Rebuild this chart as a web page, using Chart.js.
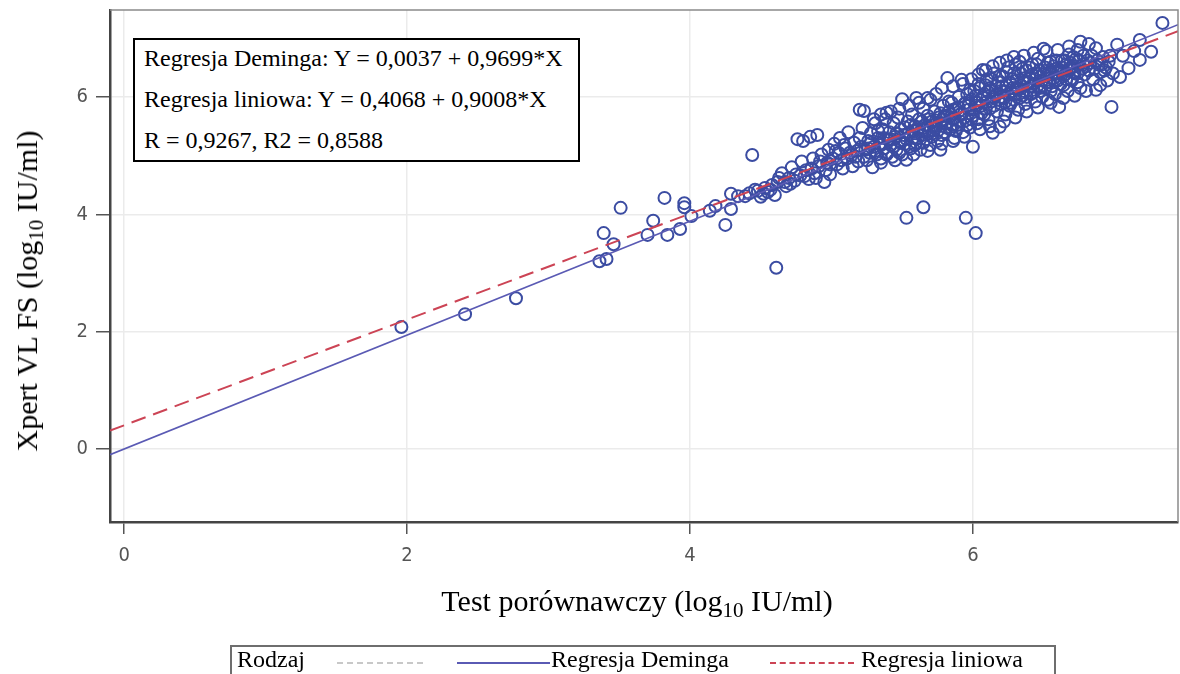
<!DOCTYPE html>
<html lang="pl">
<head>
<meta charset="utf-8">
<script src="https://cdn.jsdelivr.net/npm/chart.js@4"></script>
<style>
  html, body { margin:0; padding:0; background:#fff; }
  #wrap { position:relative; width:1180px; height:674px; overflow:hidden; font-family:"Liberation Serif", "Times New Roman", serif; }
  #chart { position:absolute; left:0; top:0; }
  .ttl { position:absolute; color:#000; font-size:30px; white-space:nowrap; }
  .ttl sub { font-size:21px; vertical-align:-6px; line-height:0; }
  #ytitle { left:27px; top:291px; transform:translate(-50%,-50%) rotate(-90deg); }
  #xtitle { left:637px; top:601px; transform:translate(-50%,-50%); }
  #stats { position:absolute; left:133px; top:38px; width:447px; height:124px; border:2px solid #000; background:#fff;
           font-size:24px; line-height:41px; padding:0 0 0 9px; box-sizing:border-box; }
  #stats div { height:41px; }
  #stats div:first-child { margin-top:-2px; }
  #legend { position:absolute; left:230px; top:645px; width:826px; height:40px; border:2px solid #6e6e6e; box-sizing:border-box;
            font-size:24px; }
  #legend span { position:absolute; top:-1px; white-space:nowrap; }
  #legend i { position:absolute; top:15px; height:0; }
</style>
</head>
<body>
<div id="wrap">
  <canvas id="chart" width="1180" height="674"></canvas>
  <div class="ttl" id="ytitle">Xpert VL FS (log<sub>10</sub> IU/ml)</div>
  <div class="ttl" id="xtitle">Test porównawczy (log<sub>10</sub> IU/ml)</div>
  <div id="stats">
    <div>Regresja Deminga: Y = 0,0037 + 0,9699*X</div>
    <div>Regresja liniowa: Y = 0,4068 + 0,9008*X</div>
    <div>R = 0,9267, R2 = 0,8588</div>
  </div>
  <div id="legend">
    <span style="left:5px">Rodzaj</span>
    <i style="left:105px;width:86px;border-top:2px dashed #c8c8c8"></i>
    <i style="left:225px;width:93px;border-top:2px solid #5a5ab4"></i>
    <span style="left:319px">Regresja Deminga</span>
    <i style="left:538px;width:84px;border-top:2px dashed #cc4455"></i>
    <span style="left:629px">Regresja liniowa</span>
  </div>
</div>
<script>
// axis setup
const X_MIN = -0.1, X_MAX = 7.45;
const Y_MIN = -1.24, Y_MAX = 7.48;
const xTicks = [0, 2, 4, 6];
const yTicks = [0, 2, 4, 6];

// regression lines (from the box)
const demingLine = { a: 0.0037, b: 0.9699 };
const linearLine = { a: 0.4068, b: 0.9008 };

// low-end samples
const tailPoints = [
  [1.96,2.08],[2.41,2.30],[2.77,2.57],[3.36,3.20],[3.41,3.24],[3.39,3.68],[3.46,3.49],[3.51,4.11],
  [3.70,3.65],[3.74,3.89],[3.84,3.65],[3.82,4.28],[3.93,3.75],[3.96,4.19],[3.96,4.12],[4.01,3.97],
  [4.14,4.06],[4.18,4.14],[4.25,3.82],[4.29,4.09],[4.29,4.35],[4.34,4.31],[4.39,4.31],[4.44,5.01]
];

// points well below the band
const outlierPoints = [
  [4.61,3.09],[5.53,3.94],[5.65,4.12],[5.95,3.94],[6.02,3.68]
];

// main band 4.4 .. 7.4
const clusterPoints = [
  [4.42,4.36],[4.46,4.42],[4.50,4.30],[4.53,4.45],[4.55,4.38],[4.58,4.50],[4.60,4.33],
  [4.62,4.55],[4.65,4.70],[4.68,4.48],[4.70,4.62],[4.72,4.80],[4.74,4.57],[4.76,5.28],[4.78,4.66],[4.79,4.90],[4.80,5.25],
  [4.82,4.75],[4.84,4.60],[4.85,5.32],[4.87,4.95],[4.88,4.70],[4.90,5.35],[4.91,4.82],[4.93,5.02],[4.95,4.55],[4.97,4.88],[4.98,5.10],[4.99,4.68],
  [5.01,4.95],[5.02,5.20],[5.04,4.85],[5.05,5.05],[5.06,5.30],[5.08,4.78],[5.10,5.12],[5.11,4.95],[5.12,5.40],[5.14,5.00],[5.15,4.82],[5.16,5.22],[5.18,5.08],[5.19,4.90],[5.20,5.78],[5.20,5.30],
  [5.22,5.47],[5.23,5.76],[5.24,5.10],[5.25,4.92],[5.26,5.25],[5.27,5.05],[5.28,5.38],[5.29,4.80],[5.30,5.15],[5.31,5.55],[5.32,5.02],[5.33,5.30],[5.34,5.20],[5.35,4.95],[5.36,5.45],[5.37,5.12],[5.38,5.62],[5.39,5.73],[5.40,5.28],[5.40,5.05],
  [5.41,5.40],[5.42,5.18],[5.43,4.98],[5.44,5.55],[5.45,5.32],[5.46,5.10],[5.47,5.65],[5.48,5.25],[5.49,5.45],[5.50,5.96],[5.50,5.02],[5.51,5.35],[5.52,5.20],[5.53,4.93],[5.54,5.58],[5.55,5.40],[5.56,5.12],[5.57,5.70],[5.58,5.30],[5.59,5.50],[5.60,5.98],[5.60,5.22],
  [5.61,5.45],[5.62,5.62],[5.63,5.10],[5.64,5.35],[5.65,5.80],[5.66,5.52],[5.67,5.28],[5.68,5.68],[5.69,5.42],[5.70,5.95],[5.70,5.18],[5.71,5.58],[5.72,5.38],[5.73,5.75],[5.74,5.48],[5.75,5.25],[5.76,5.65],[5.77,5.10],[5.78,5.55],[5.79,5.85],[5.80,5.40],[5.80,5.68],
  [5.81,5.55],[5.82,6.32],[5.83,5.75],[5.84,5.45],[5.85,5.90],[5.86,5.62],[5.87,5.30],[5.88,5.80],[5.89,5.52],[5.90,6.00],[5.91,5.70],[5.92,6.29],[5.93,5.40],[5.94,5.88],[5.95,5.60],[5.96,6.05],[5.97,5.78],[5.98,5.48],[5.99,5.95],[6.00,5.15],[6.00,5.68],
  [6.01,6.10],[6.02,5.85],[6.03,5.55],[6.04,6.22],[6.05,5.95],[6.06,5.72],[6.07,6.46],[6.08,6.05],[6.09,5.80],[6.10,6.30],[6.11,5.62],[6.12,6.15],[6.13,5.92],[6.14,5.39],[6.15,6.40],[6.16,6.02],[6.17,5.75],[6.18,6.25],[6.19,5.49],[6.20,6.10],[6.20,5.88],
  [6.21,6.35],[6.22,5.98],[6.23,5.70],[6.24,6.20],[6.25,6.50],[6.26,5.85],[6.27,6.08],[6.28,6.30],[6.29,5.95],[6.30,6.55],[6.31,6.15],[6.32,5.78],[6.33,6.60],[6.34,6.40],[6.35,6.02],[6.36,6.25],[6.37,5.88],[6.38,6.45],[6.39,6.12],[6.40,6.32],
  [6.41,6.05],[6.42,6.55],[6.43,6.22],[6.44,5.92],[6.45,6.40],[6.46,6.65],[6.47,6.15],[6.48,6.35],[6.49,6.00],[6.50,6.82],[6.51,6.50],[6.52,6.25],[6.53,5.95],[6.54,6.42],[6.55,6.60],[6.56,6.18],[6.57,6.32],[6.58,6.05],[6.59,6.48],[6.60,6.28],
  [6.61,5.83],[6.62,6.45],[6.63,6.62],[6.64,6.20],[6.65,6.38],[6.66,6.55],[6.67,6.10],[6.68,6.72],[6.69,6.30],[6.70,6.50],[6.72,6.40],[6.73,6.65],[6.74,6.25],[6.76,6.94],[6.76,6.15],[6.78,6.55],[6.79,6.38],
  [6.81,6.62],[6.82,6.45],[6.84,6.70],[6.85,6.30],[6.87,6.83],[6.87,6.12],[6.89,6.55],[6.90,6.42],[6.92,6.68],[6.94,6.50],[6.96,6.60],[6.98,5.83],[6.99,6.40],[7.02,6.89],
  [7.04,6.34],[7.06,6.70],[7.10,6.49],[7.14,6.78],[7.18,6.63],[7.18,6.97],[7.26,6.77],[7.34,7.26]
];

// extra points in the densest part of the band
const densePoints = [
  [4.48,4.40],[4.52,4.35],[4.57,4.42],[4.63,4.62],[4.67,4.55],[4.71,4.52],[4.75,4.68],[4.81,4.65],[4.86,4.78],[4.89,4.62],[4.92,4.90],[4.96,4.75],[4.99,4.85],
  [5.03,5.08],[5.07,4.92],[5.09,5.18],[5.13,5.05],[5.17,4.98],[5.21,5.15],[5.23,4.98],[5.26,5.12],[5.28,5.22],[5.31,5.08],[5.33,5.42],[5.35,5.18],[5.37,5.30],[5.39,5.02],[5.42,5.28],[5.44,5.15],[5.46,5.38],[5.48,5.05],[5.49,5.22],[5.52,5.48],
  [5.53,5.28],[5.55,5.15],[5.56,5.52],[5.58,5.42],[5.59,5.18],[5.61,5.30],[5.62,5.48],[5.64,5.58],[5.65,5.22],[5.66,5.40],[5.68,5.50],[5.69,5.62],[5.71,5.32],[5.72,5.52],[5.74,5.60],[5.75,5.42],[5.77,5.72],[5.78,5.35],[5.79,5.62],[5.81,5.48],[5.82,5.68],[5.83,5.92],[5.85,5.52],[5.86,5.78],[5.87,5.65],[5.88,5.42],[5.90,5.82],[5.91,5.58],[5.92,5.72],[5.94,5.65],[5.95,5.90],[5.96,5.52],[5.97,5.85],[5.98,6.12],[5.99,5.62],
  [6.01,5.78],[6.02,6.02],[6.03,5.90],[6.04,5.62],[6.05,6.15],[6.06,5.85],[6.07,6.00],[6.08,5.70],[6.09,6.20],[6.10,5.92],[6.11,6.08],[6.12,5.80],[6.13,6.30],[6.14,6.00],[6.15,5.85],[6.16,6.18],[6.17,6.05],[6.18,5.95],[6.19,6.35],[6.20,6.00],[6.21,6.18],[6.22,6.10],[6.23,5.92],[6.24,6.42],[6.25,6.05],[6.26,6.25],[6.27,5.90],[6.28,6.15],[6.29,6.40],[6.30,6.05],[6.31,6.28],[6.32,6.12],[6.33,5.98],[6.34,6.20],[6.35,6.48],[6.36,6.10],[6.37,6.32],[6.38,6.00],[6.39,6.25],[6.40,6.50],[6.41,6.18],[6.42,6.38],[6.43,6.08],[6.44,6.30],[6.45,6.55],[6.46,6.20],[6.47,6.45],[6.48,6.10],[6.49,6.28],
  [6.50,6.38],[6.51,6.15],[6.52,6.45],[6.53,6.58],[6.54,6.25],[6.55,6.10],[6.56,6.40],[6.57,6.52],[6.58,6.28],[6.59,6.62],[6.60,6.40],[6.62,6.22],[6.63,6.50],[6.64,6.35],[6.65,6.62],[6.66,6.30],[6.68,6.45],[6.69,6.58],[6.70,6.28],[6.71,6.68],[6.72,6.52],[6.74,6.40],[6.75,6.62],[6.77,6.48],[6.78,6.70],[6.80,6.52],[6.83,6.58],[6.86,6.48],[6.88,6.62],[6.91,6.55],[6.93,6.45],[6.97,6.70]
];

// edge of the band, upper and lower side
const edgePoints = [
  [5.30,5.62],[5.35,5.70],[5.42,5.75],[5.48,5.80],[5.55,5.85],[5.62,5.90],[5.68,5.98],[5.74,6.05],[5.78,6.15],[5.86,6.18],[5.93,6.22],[5.99,6.30],
  [6.04,6.38],[6.09,6.45],[6.14,6.52],[6.19,6.58],[6.24,6.62],[6.29,6.68],[6.36,6.70],[6.43,6.75],[6.52,6.78],[6.60,6.80],[6.68,6.86],[6.74,6.80],[6.82,6.90],
  [5.35,4.88],[5.45,4.92],[5.58,5.02],[5.68,5.08],[5.78,5.20],[5.86,5.25],[5.94,5.32],[6.05,5.45],[6.12,5.50],[6.22,5.58],[6.30,5.65],[6.38,5.75],
  [6.46,5.82],[6.55,5.90],[6.64,5.98],[6.72,6.02],[6.80,6.10],[6.90,6.20],[6.95,6.28]
];

const POINT_COLOR = '#3b4ca2';
const toXY = arr => arr.map(p => ({ x: p[0], y: p[1] }));
const lineData = l => [X_MIN, X_MAX].map(x => ({ x, y: l.a + l.b * x }));

// top/right frame, gray
const framePlugin = {
  id: 'frame',
  afterDraw(chart) {
    const { ctx, chartArea: a } = chart;
    ctx.save();
    ctx.strokeStyle = '#8a8a8a';
    ctx.lineWidth = 1.5;
    ctx.beginPath();
    ctx.moveTo(a.left, a.top); ctx.lineTo(a.right, a.top); ctx.lineTo(a.right, a.bottom);
    ctx.stroke();
    ctx.restore();
  }
};

const fixTicks = vals => scale => { scale.ticks = vals.map(v => ({ value: v })); };
const tickFont = { family: '"DejaVu Sans Condensed", "DejaVu Sans", sans-serif', size: 20 };

new Chart(document.getElementById('chart'), {
  type: 'scatter',
  data: {
    datasets: [
      { label: 'Punkty', data: toXY([...tailPoints, ...outlierPoints, ...clusterPoints, ...densePoints, ...edgePoints]), order: 3,
        pointStyle: 'circle', pointRadius: 6, pointBorderWidth: 2,
        borderColor: POINT_COLOR, backgroundColor: 'rgba(0,0,0,0)', pointHoverRadius: 6 },
      { type: 'line', label: 'Regresja Deminga', data: lineData(demingLine), order: 2,
        borderColor: '#5a5ab4', borderWidth: 1.6, pointRadius: 0, fill: false },
      { type: 'line', label: 'Regresja liniowa', data: lineData(linearLine), order: 1,
        borderColor: '#cc4455', borderWidth: 2, borderDash: [15, 8], pointRadius: 0, fill: false }
    ]
  },
  options: {
    responsive: false, animation: false, devicePixelRatio: 1,
    layout: { autoPadding: false, padding: { top: 10, right: 2, left: 0, bottom: 0 } },
    plugins: { legend: { display: false }, tooltip: { enabled: false } },
    scales: {
      x: {
        type: 'linear', min: X_MIN, max: X_MAX,
        afterBuildTicks: fixTicks(xTicks),
        afterFit: s => { s.height = 152; s.paddingLeft = 0; s.paddingRight = 0; },
        grid: { color: '#ebebeb', lineWidth: 1.5, tickLength: 12, tickColor: '#555', tickWidth: 1.5 },
        border: { color: '#444', width: 2.5 },
        ticks: { color: '#555', padding: 10, font: tickFont }
      },
      y: {
        type: 'linear', min: Y_MIN, max: Y_MAX,
        afterBuildTicks: fixTicks(yTicks),
        afterFit: s => { s.width = 110; s.paddingTop = 0; s.paddingBottom = 0; },
        grid: { color: '#ebebeb', lineWidth: 1.5, tickLength: 14, tickColor: '#555', tickWidth: 1.5 },
        border: { color: '#444', width: 2.5 },
        ticks: { color: '#555', padding: 8, font: tickFont }
      }
    }
  },
  plugins: [framePlugin]
});
</script>
</body>
</html>
